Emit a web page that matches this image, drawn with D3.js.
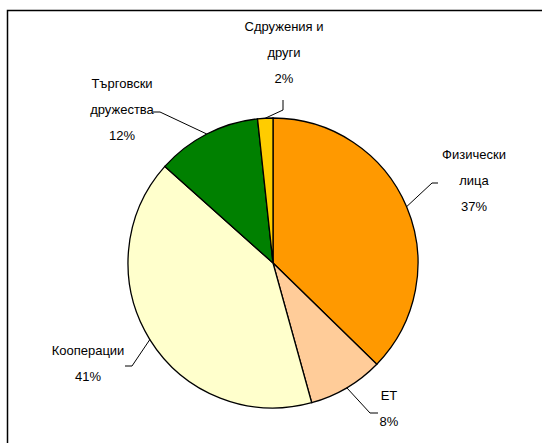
<!DOCTYPE html>
<html>
<head>
<meta charset="utf-8">
<script src="https://cdn.jsdelivr.net/npm/d3@7"></script>
<style>
  body { margin: 0; background: #fff; }
  text { font-family: "Liberation Sans", Arial, sans-serif; font-size: 13px; fill: #000; }
</style>
</head>
<body>
<div id="chart"></div>
<script>
// slice data, clockwise from 12 o'clock
const categories = [['Физически', 'лица'], ['ЕТ'], ['Кооперации'], ['Търговски', 'дружества'], ['Сдружения и', 'други']];
const values = [37.3, 8.4, 40.9, 11.7, 1.7];
const percentLabels = ['37%', '8%', '41%', '12%', '2%'];
const colors = ['#ff9900', '#ffcc99', '#ffffcc', '#008000', '#ffcc00'];

// label placement relative to pie centre: label centre, elbow point, line end
const labelLayout = [
  {lx: 201, ly: -107, ex: 159, ey: -80, tx: 165, ty: -80},
  {lx: 116, ly: 134, ex: 97, ey: 150, tx: 105, ty: 150},
  {lx: -185, ly: 89, ex: -141, ey: 103, tx: -148, ty: 103},
  {lx: -151, ly: -178, ex: -113, ey: -151, tx: -120, ty: -151},
  {lx: 11, ly: -235, ex: 10, ey: -153, tx: 10, ty: -163}
];

const width = 542, height = 443;
const cx = 273, cy = 263, radius = 145;
const lineStep = 26;

const svg = d3.select('#chart').append('svg')
  .attr('width', width)
  .attr('height', height);

// outer frame (runs past the right and bottom edges)
svg.append('rect')
  .attr('x', 7.5)
  .attr('y', 10.5)
  .attr('width', width)
  .attr('height', height)
  .attr('fill', 'none')
  .attr('stroke', '#000')
  .attr('stroke-width', 1.5);

const data = values.map((v, i) => ({value: v, name: categories[i], pct: percentLabels[i], color: colors[i], layout: labelLayout[i]}));

const pie = d3.pie().sort(null).value(d => d.value);
const arc = d3.arc().innerRadius(0).outerRadius(radius);
const edgeArc = d3.arc().innerRadius(radius).outerRadius(radius);

const g = svg.append('g').attr('transform', `translate(${cx},${cy})`);

const arcs = pie(data);

g.selectAll('path.slice')
  .data(arcs)
  .join('path')
  .attr('class', 'slice')
  .attr('d', arc)
  .attr('fill', d => d.data.color)
  .attr('stroke', '#000')
  .attr('stroke-width', 1.3);

// leader lines
g.selectAll('polyline.leader')
  .data(arcs)
  .join('polyline')
  .attr('class', 'leader')
  .attr('fill', 'none')
  .attr('stroke', '#000')
  .attr('stroke-width', 1)
  .attr('points', d => {
    const p = edgeArc.centroid(d);
    const l = d.data.layout;
    return [p, [l.ex, l.ey], [l.tx, l.ty]].map(q => q.join(',')).join(' ');
  });

// labels: category lines then percentage
const labels = g.selectAll('text.label')
  .data(arcs)
  .join('text')
  .attr('class', 'label')
  .attr('text-anchor', 'middle')
  .attr('x', d => d.data.layout.lx)
  .attr('y', d => d.data.layout.ly);

labels.each(function(d) {
  const t = d3.select(this);
  const lines = d.data.name.concat([d.data.pct]);
  lines.forEach((s, i) => {
    t.append('tspan')
      .attr('x', d.data.layout.lx)
      .attr('y', d.data.layout.ly + i * lineStep)
      .attr('dominant-baseline', 'middle')
      .text(s);
  });
});
</script>
</body>
</html>
